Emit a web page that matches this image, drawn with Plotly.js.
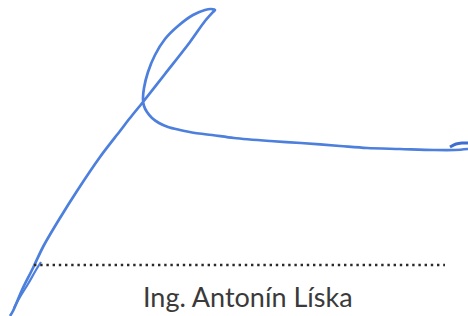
<!DOCTYPE html>
<html>
<head>
<meta charset="utf-8">
<script src="https://cdn.plot.ly/plotly-3.0.1.min.js"></script>
<style>html,body{margin:0;padding:0;background:#fff;}#chart{width:468px;height:316px;}</style>
</head>
<body>
<div id="chart"></div>
<script>
// Signature stroke (pixel space, y downward)
const strokeX = [10, 13, 22, 33, 43, 60, 77, 100, 120, 130, 143, 165, 190, 205, 213, 215, 211, 205, 193, 178, 165, 155, 148, 144, 143, 144, 147, 152, 159, 168, 180, 195, 212, 234, 270, 301, 340, 367, 400, 434, 455, 468];
const strokeY = [316, 311, 290, 268, 247, 218, 191, 157, 131, 118, 102, 74, 42, 21, 12, 10, 9, 10, 15, 26, 39, 55, 72, 88, 99, 106, 112, 118, 123, 127, 130, 133, 135, 138, 141, 143, 146, 148, 149, 150, 150, 149];
const hookLeftX = [41, 36, 28, 20, 14];
const hookLeftY = [262, 270, 284, 297, 308];
const hookRightX = [450, 456, 462, 468];
const hookRightY = [147, 144, 143, 143];
const dotsX = [34, 445];
const dotsY = [265, 265];
const nameText = "Ing. Antonín Líska";

const ink = '#4d7fdc';
const traces = [
  {x: strokeX, y: strokeY, mode: 'lines', line: {color: ink, width: 2.7, shape: 'spline', smoothing: 0.9}, hoverinfo: 'skip'},
  {x: hookLeftX, y: hookLeftY, mode: 'lines', line: {color: ink, width: 2.2, shape: 'spline'}, hoverinfo: 'skip'},
  {x: hookRightX, y: hookRightY, mode: 'lines', line: {color: '#3e6fcf', width: 3, shape: 'spline'}, hoverinfo: 'skip'},
  {x: dotsX, y: dotsY, mode: 'lines', line: {color: '#2a2a2a', width: 2.5, dash: '2.4px,3.8px'}, hoverinfo: 'skip'}
];
const layout = {
  width: 468, height: 316,
  margin: {l: 0, r: 0, t: 0, b: 0},
  paper_bgcolor: '#ffffff', plot_bgcolor: '#ffffff',
  showlegend: false,
  xaxis: {range: [0, 468], visible: false, fixedrange: true},
  yaxis: {range: [316, 0], visible: false, fixedrange: true},
  annotations: [{
    x: 248, y: 296, xref: 'x', yref: 'y', text: nameText, showarrow: false,
    xanchor: 'center', yanchor: 'middle',
    font: {family: 'Lato, "Open Sans", sans-serif', size: 27, color: '#3a3a3a'}
  }]
};
Plotly.newPlot('chart', traces, layout, {staticPlot: true, displayModeBar: false});
</script>
</body>
</html>
